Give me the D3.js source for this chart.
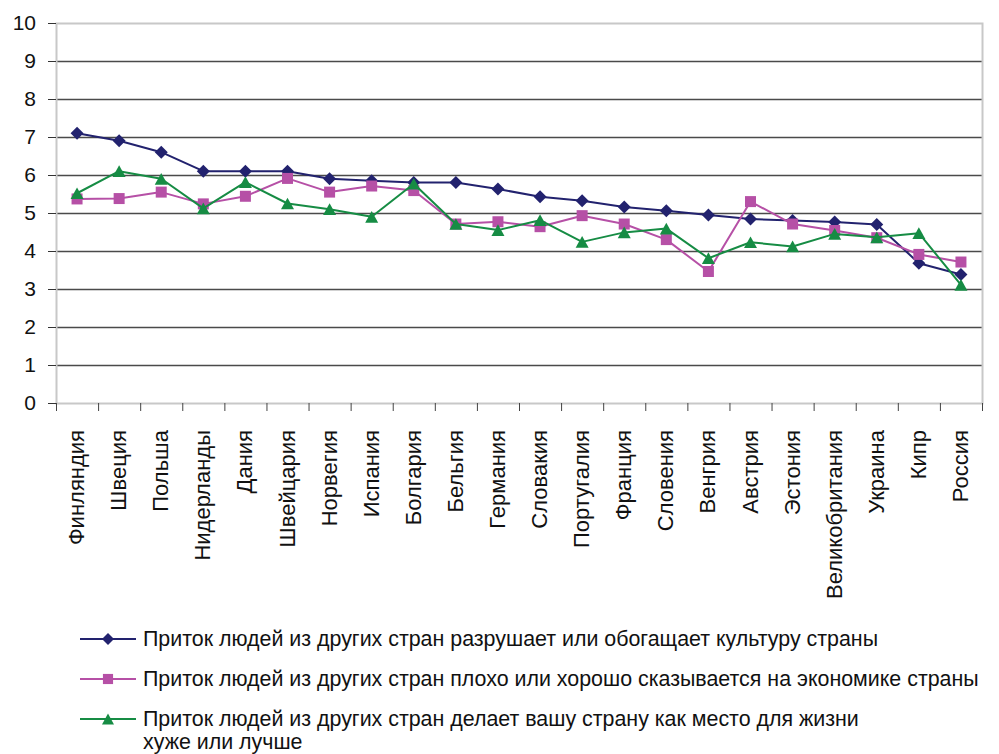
<!DOCTYPE html>
<html>
<head>
<meta charset="utf-8">
<script src="https://cdn.jsdelivr.net/npm/d3@7"></script>
<style>
  body { margin: 0; background: #fff; }
  svg { display: block; }
  text { font-family: "Liberation Sans", Arial, Helvetica, sans-serif; }
</style>
</head>
<body>
<svg width="999" height="754"></svg>
<script>
var countries = ["Финляндия", "Швеция", "Польша", "Нидерланды", "Дания", "Швейцария",
  "Норвегия", "Испания", "Болгария", "Бельгия", "Германия", "Словакия", "Португалия",
  "Франция", "Словения", "Венгрия", "Австрия", "Эстония", "Великобритания", "Украина",
  "Кипр", "Россия"];

var culture = [7.1, 6.9, 6.6, 6.1, 6.1, 6.1, 5.9, 5.85, 5.8, 5.8, 5.63, 5.43, 5.32,
  5.16, 5.06, 4.95, 4.84, 4.8, 4.76, 4.7, 3.68, 3.38];
var economy = [5.37, 5.38, 5.55, 5.24, 5.44, 5.91, 5.55, 5.71, 5.59, 4.71, 4.77, 4.64,
  4.93, 4.71, 4.3, 3.46, 5.3, 4.71, 4.54, 4.35, 3.91, 3.71];
var life = [5.52, 6.1, 5.9, 5.12, 5.81, 5.25, 5.1, 4.9, 5.77, 4.71, 4.55, 4.81, 4.24,
  4.49, 4.59, 3.81, 4.23, 4.12, 4.45, 4.36, 4.47, 3.11];

var yTicks = [0, 1, 2, 3, 4, 5, 6, 7, 8, 9, 10];

var legendLabels = [
  ["Приток людей из других стран разрушает или обогащает культуру страны"],
  ["Приток людей из других стран плохо или хорошо сказывается на экономике страны"],
  ["Приток людей из других стран делает вашу страну как место для жизни", "хуже или лучше"]
];

var svg = d3.select("svg"),
    margin = {top: 23, right: 17, bottom: 351, left: 56},
    width = 999 - margin.left - margin.right,
    height = 754 - margin.top - margin.bottom,
    g = svg.append("g").attr("transform", "translate(" + margin.left + "," + margin.top + ")");

var x = d3.scaleBand().domain(countries).range([0, width]);
var y = d3.scaleLinear().domain([0, 10]).range([height, 0]);

// diamond, square, triangle centred on their box like the office chart
var diamond = { draw: function(ctx, size) {
  var r = Math.sqrt(size) / 2;
  ctx.moveTo(0, -r); ctx.lineTo(r, 0); ctx.lineTo(0, r); ctx.lineTo(-r, 0); ctx.closePath();
}};
var square = { draw: function(ctx, size) {
  var r = Math.sqrt(size) / 2;
  ctx.rect(-r, -r, 2 * r, 2 * r);
}};
var triangle = { draw: function(ctx, size) {
  var r = Math.sqrt(size) / 2;
  ctx.moveTo(0, -r * 0.9); ctx.lineTo(r, r * 0.9); ctx.lineTo(-r, r * 0.9); ctx.closePath();
}};

var series = [
  {values: culture, color: "#22226e", shape: diamond, size: 169},
  {values: economy, color: "#b650a6", shape: square, size: 121},
  {values: life, color: "#168c44", shape: triangle, size: 169}
];

// grid
g.append("g")
  .selectAll("line")
  .data(yTicks.filter(function(d) { return d > 0 && d < 10; }))
  .enter().append("line")
  .attr("x1", 0).attr("x2", width)
  .attr("y1", function(d) { return Math.round(y(d)) + 0.5; })
  .attr("y2", function(d) { return Math.round(y(d)) + 0.5; })
  .attr("stroke", "#4a4a4a")
  .attr("stroke-width", 1.3);

// frame
g.append("rect")
  .attr("x", 0.5).attr("y", 0.5)
  .attr("width", width).attr("height", height)
  .attr("fill", "none")
  .attr("stroke", "#c8c8c8")
  .attr("stroke-width", 2);

// y axis
var yAxis = g.append("g")
  .call(d3.axisLeft(y).tickValues(yTicks).tickSize(8).tickPadding(12));
yAxis.select(".domain").remove();
yAxis.selectAll(".tick line").attr("stroke", "#333");
yAxis.selectAll("text")
  .attr("fill", "#111")
  .style("font-size", "21px");

// x axis ticks at category boundaries
var bounds = d3.range(countries.length + 1).map(function(i) { return i * x.bandwidth(); });
g.append("g")
  .selectAll("line")
  .data(bounds)
  .enter().append("line")
  .attr("x1", function(d) { return d + 0.5; })
  .attr("x2", function(d) { return d + 0.5; })
  .attr("y1", height).attr("y2", height + 8)
  .attr("stroke", "#444");

g.append("g")
  .selectAll("text")
  .data(countries)
  .enter().append("text")
  .attr("transform", function(d) {
    return "translate(" + (x(d) + x.bandwidth() / 2 + 7) + "," + (height + 27) + ") rotate(-90)";
  })
  .attr("text-anchor", "end")
  .attr("fill", "#111")
  .style("font-size", "22px")
  .text(function(d) { return d; });

// lines and markers
var line = d3.line()
  .x(function(d, i) { return x(countries[i]) + x.bandwidth() / 2; })
  .y(function(d) { return y(d); });

series.forEach(function(s) {
  g.append("path")
    .datum(s.values)
    .attr("fill", "none")
    .attr("stroke", s.color)
    .attr("stroke-width", 2)
    .attr("stroke-linejoin", "round")
    .attr("d", line);

  g.append("g")
    .selectAll("path")
    .data(s.values)
    .enter().append("path")
    .attr("transform", function(d, i) {
      return "translate(" + (x(countries[i]) + x.bandwidth() / 2) + "," + y(d) + ")";
    })
    .attr("d", d3.symbol(s.shape, s.size))
    .attr("fill", s.color);
});

// legend
var legend = svg.append("g").attr("transform", "translate(80,639)");
series.forEach(function(s, i) {
  var row = legend.append("g").attr("transform", "translate(0," + (i * 40) + ")");
  row.append("line")
    .attr("x1", 0).attr("x2", 56)
    .attr("stroke", s.color).attr("stroke-width", 2);
  row.append("path")
    .attr("transform", "translate(28,0)")
    .attr("d", d3.symbol(s.shape, s.size * 0.85))
    .attr("fill", s.color);
  legendLabels[i].forEach(function(t, j) {
    row.append("text")
      .attr("x", 63)
      .attr("y", 7 + j * 23)
      .attr("fill", "#111")
      .style("font-size", "21.4px")
      .text(t);
  });
});
</script>
</body>
</html>
